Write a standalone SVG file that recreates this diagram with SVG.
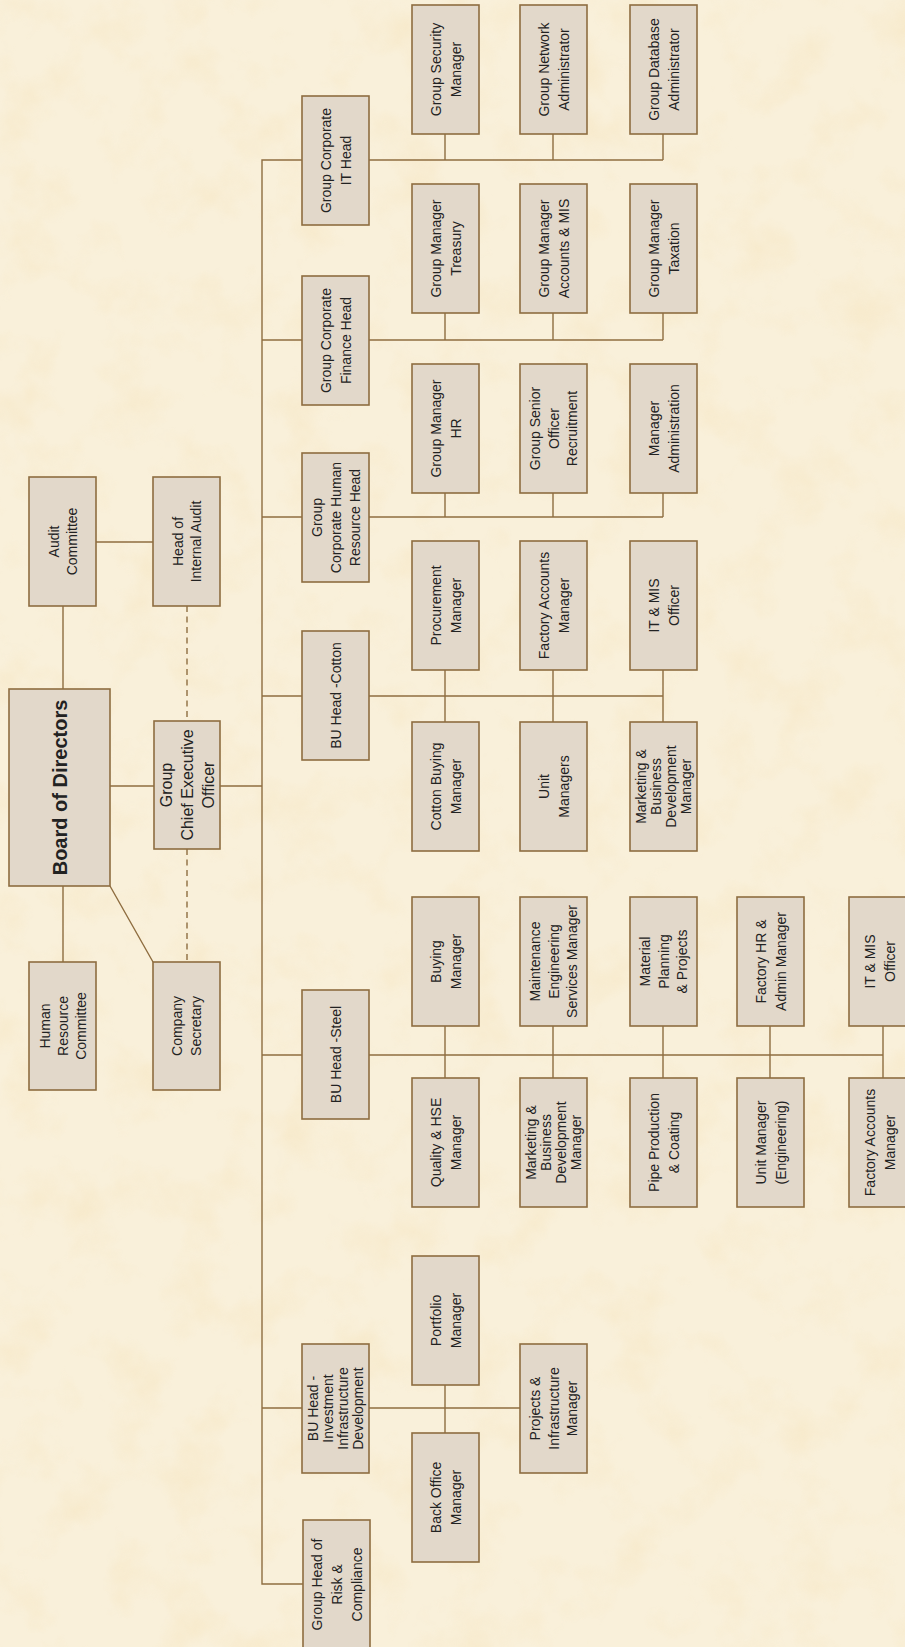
<svg xmlns="http://www.w3.org/2000/svg" width="905" height="1647" viewBox="0 0 905 1647">
<defs>
<style>
.box{fill:#e2d8ca;stroke:#8e6d40;stroke-width:1.6}
.t{font-family:"Liberation Sans",Arial,sans-serif;font-size:14px;fill:#222;text-anchor:middle}
.big{font-size:20px;font-weight:bold}
.ceo{font-size:16px}
.ln{stroke:#8e6d40;stroke-width:1.4;fill:none}
.dash{stroke-dasharray:6 4.5}
</style>
<filter id="paper" x="0" y="0" width="100%" height="100%">
<feTurbulence type="fractalNoise" baseFrequency="0.018" numOctaves="4" seed="7" result="n"/>
<feColorMatrix in="n" type="matrix" values="0 0 0 0 0.92  0 0 0 0 0.78  0 0 0 0 0.52  2.2 0 0 0 -1.05"/>
</filter>
</defs>
<rect width="905" height="1647" fill="#f9f0da"/>
<rect width="905" height="1647" fill="#fff" filter="url(#paper)" opacity="0.55"/>

<g id="connectors">
<path class="ln" d="M63,606V689M96,542H153M63,886V962M110,886L153,962M110,786H154M220,786H262"/>
<path class="ln dash" d="M187,606V721M187,849V962"/>
<path class="ln" d="M302,160H262V1584H303M262,340H302M262,517H302M262,696H302M262,1055H302M262,1408H302"/>
<path class="ln" d="M369,160H663M445,134V160M553,134V160M663,134V160"/>
<path class="ln" d="M369,340H663M445,313V340M553,313V340M663,313V340"/>
<path class="ln" d="M369,517H663M445,493V517M553,493V517M663,493V517"/>
<path class="ln" d="M369,696H663M445,670V722M553,670V722M663,670V722"/>
<path class="ln" d="M369,1055H883M445,1026V1078M553,1026V1078M663,1026V1078M770,1026V1078M883,1026V1078"/>
<path class="ln" d="M369,1408H520M445,1385V1433"/>
</g>

<g id="board"><rect class="box" x="9" y="689" width="101" height="197"/>
<text class="t big" transform="translate(60,787.5) rotate(-90)"><tspan x="0" y="7">Board of Directors</tspan></text></g>

<g id="audit"><rect class="box" x="29" y="477" width="67" height="129"/>
<text class="t" transform="translate(62.5,541.5) rotate(-90)"><tspan x="0" y="-4">Audit</tspan><tspan x="0" y="14">Committee</tspan></text></g>

<g id="hia"><rect class="box" x="153" y="477" width="67" height="129"/>
<text class="t" transform="translate(186.5,541.5) rotate(-90)"><tspan x="0" y="-4">Head of</tspan><tspan x="0" y="14">Internal Audit</tspan></text></g>

<g id="ceo"><rect class="box" x="154" y="721" width="66" height="128"/>
<text class="t ceo" transform="translate(187,785) rotate(-90)"><tspan x="0" y="-15">Group</tspan><tspan x="0" y="6">Chief Executive</tspan><tspan x="0" y="27">Officer</tspan></text></g>

<g id="hrc"><rect class="box" x="29" y="962" width="67" height="128"/>
<text class="t" transform="translate(62.5,1026) rotate(-90)"><tspan x="0" y="-13">Human</tspan><tspan x="0" y="5">Resource</tspan><tspan x="0" y="23">Committee</tspan></text></g>

<g id="secretary"><rect class="box" x="153" y="962" width="67" height="128"/>
<text class="t" transform="translate(186.5,1026) rotate(-90)"><tspan x="0" y="-4.5">Company</tspan><tspan x="0" y="14.5">Secretary</tspan></text></g>

<g id="it_head"><rect class="box" x="302" y="96" width="67" height="129"/>
<text class="t" transform="translate(335.5,160.5) rotate(-90)"><tspan x="0" y="-5">Group Corporate</tspan><tspan x="0" y="15">IT Head</tspan></text></g>

<g id="fin_head"><rect class="box" x="302" y="276" width="67" height="129"/>
<text class="t" transform="translate(335.5,340.5) rotate(-90)"><tspan x="0" y="-5">Group Corporate</tspan><tspan x="0" y="15">Finance Head</tspan></text></g>

<g id="hr_head"><rect class="box" x="302" y="453" width="67" height="129"/>
<text class="t" transform="translate(335.5,517.5) rotate(-90)"><tspan x="0" y="-14">Group</tspan><tspan x="0" y="5">Corporate Human</tspan><tspan x="0" y="24">Resource Head</tspan></text></g>

<g id="cotton_head"><rect class="box" x="302" y="631" width="67" height="129"/>
<text class="t" transform="translate(335.5,695.5) rotate(-90)"><tspan x="0" y="5">BU Head -Cotton</tspan></text></g>

<g id="steel_head"><rect class="box" x="302" y="990" width="67" height="129"/>
<text class="t" transform="translate(335.5,1054.5) rotate(-90)"><tspan x="0" y="5">BU Head -Steel</tspan></text></g>

<g id="invest_head"><rect class="box" x="302" y="1344" width="67" height="129"/>
<text class="t" transform="translate(335.5,1408.5) rotate(-90)"><tspan x="0" y="-17.5">BU Head -</tspan><tspan x="0" y="-2.5">Investment</tspan><tspan x="0" y="12.5">Infrastructure</tspan><tspan x="0" y="27.5">Development</tspan></text></g>

<g id="risk_head"><rect class="box" x="303" y="1520" width="67" height="129"/>
<text class="t" transform="translate(336.5,1584.5) rotate(-90)"><tspan x="0" y="-15">Group Head of</tspan><tspan x="0" y="5">Risk &amp;</tspan><tspan x="0" y="25">Compliance</tspan></text></g>

<g id="sec_mgr"><rect class="box" x="412" y="5" width="67" height="129"/>
<text class="t" transform="translate(445.5,69.5) rotate(-90)"><tspan x="0" y="-5">Group Security</tspan><tspan x="0" y="15">Manager</tspan></text></g>

<g id="net_admin"><rect class="box" x="520" y="5" width="67" height="129"/>
<text class="t" transform="translate(553.5,69.5) rotate(-90)"><tspan x="0" y="-5">Group Network</tspan><tspan x="0" y="15">Administrator</tspan></text></g>

<g id="db_admin"><rect class="box" x="630" y="5" width="67" height="129"/>
<text class="t" transform="translate(663.5,69.5) rotate(-90)"><tspan x="0" y="-5">Group Database</tspan><tspan x="0" y="15">Administrator</tspan></text></g>

<g id="treasury"><rect class="box" x="412" y="184" width="67" height="129"/>
<text class="t" transform="translate(445.5,248.5) rotate(-90)"><tspan x="0" y="-5">Group Manager</tspan><tspan x="0" y="15">Treasury</tspan></text></g>

<g id="accounts"><rect class="box" x="520" y="184" width="67" height="129"/>
<text class="t" transform="translate(553.5,248.5) rotate(-90)"><tspan x="0" y="-5">Group Manager</tspan><tspan x="0" y="15">Accounts &amp; MIS</tspan></text></g>

<g id="taxation"><rect class="box" x="630" y="184" width="67" height="129"/>
<text class="t" transform="translate(663.5,248.5) rotate(-90)"><tspan x="0" y="-5">Group Manager</tspan><tspan x="0" y="15">Taxation</tspan></text></g>

<g id="gm_hr"><rect class="box" x="412" y="364" width="67" height="129"/>
<text class="t" transform="translate(445.5,428.5) rotate(-90)"><tspan x="0" y="-5">Group Manager</tspan><tspan x="0" y="15">HR</tspan></text></g>

<g id="recruit"><rect class="box" x="520" y="364" width="67" height="129"/>
<text class="t" transform="translate(553.5,428.5) rotate(-90)"><tspan x="0" y="-13.5">Group Senior</tspan><tspan x="0" y="5">Officer</tspan><tspan x="0" y="23.5">Recruitment</tspan></text></g>

<g id="mgr_admin"><rect class="box" x="630" y="364" width="67" height="129"/>
<text class="t" transform="translate(663.5,428.5) rotate(-90)"><tspan x="0" y="-5">Manager</tspan><tspan x="0" y="15">Administration</tspan></text></g>

<g id="procure"><rect class="box" x="412" y="541" width="67" height="129"/>
<text class="t" transform="translate(445.5,605.5) rotate(-90)"><tspan x="0" y="-5">Procurement</tspan><tspan x="0" y="15">Manager</tspan></text></g>

<g id="c_fac_acc"><rect class="box" x="520" y="541" width="67" height="129"/>
<text class="t" transform="translate(553.5,605.5) rotate(-90)"><tspan x="0" y="-5">Factory Accounts</tspan><tspan x="0" y="15">Manager</tspan></text></g>

<g id="c_itmis"><rect class="box" x="630" y="541" width="67" height="129"/>
<text class="t" transform="translate(663.5,605.5) rotate(-90)"><tspan x="0" y="-5">IT &amp; MIS</tspan><tspan x="0" y="15">Officer</tspan></text></g>

<g id="cotton_buy"><rect class="box" x="412" y="722" width="67" height="129"/>
<text class="t" transform="translate(445.5,786.5) rotate(-90)"><tspan x="0" y="-5">Cotton Buying</tspan><tspan x="0" y="15">Manager</tspan></text></g>

<g id="unit_mgrs"><rect class="box" x="520" y="722" width="67" height="129"/>
<text class="t" transform="translate(553.5,786.5) rotate(-90)"><tspan x="0" y="-5">Unit</tspan><tspan x="0" y="15">Managers</tspan></text></g>

<g id="c_mkt"><rect class="box" x="630" y="722" width="67" height="129"/>
<text class="t" transform="translate(663.5,786.5) rotate(-90)"><tspan x="0" y="-17.5">Marketing &amp;</tspan><tspan x="0" y="-2.5">Business</tspan><tspan x="0" y="12.5">Development</tspan><tspan x="0" y="27.5">Manager</tspan></text></g>

<g id="buying"><rect class="box" x="412" y="897" width="67" height="129"/>
<text class="t" transform="translate(445.5,961.5) rotate(-90)"><tspan x="0" y="-5">Buying</tspan><tspan x="0" y="15">Manager</tspan></text></g>

<g id="maint"><rect class="box" x="520" y="897" width="67" height="129"/>
<text class="t" transform="translate(553.5,961.5) rotate(-90)"><tspan x="0" y="-13.5">Maintenance</tspan><tspan x="0" y="5">Engineering</tspan><tspan x="0" y="23.5">Services Manager</tspan></text></g>

<g id="material"><rect class="box" x="630" y="897" width="67" height="129"/>
<text class="t" transform="translate(663.5,961.5) rotate(-90)"><tspan x="0" y="-13.5">Material</tspan><tspan x="0" y="5">Planning</tspan><tspan x="0" y="23.5">&amp; Projects</tspan></text></g>

<g id="fac_hr"><rect class="box" x="737" y="897" width="67" height="129"/>
<text class="t" transform="translate(770.5,961.5) rotate(-90)"><tspan x="0" y="-5">Factory HR &amp;</tspan><tspan x="0" y="15">Admin Manager</tspan></text></g>

<g id="s_itmis"><rect class="box" x="849" y="897" width="67" height="129"/>
<text class="t" transform="translate(880,961.5) rotate(-90)"><tspan x="0" y="-5">IT &amp; MIS</tspan><tspan x="0" y="15">Officer</tspan></text></g>

<g id="quality"><rect class="box" x="412" y="1078" width="67" height="129"/>
<text class="t" transform="translate(445.5,1142.5) rotate(-90)"><tspan x="0" y="-5">Quality &amp; HSE</tspan><tspan x="0" y="15">Manager</tspan></text></g>

<g id="s_mkt"><rect class="box" x="520" y="1078" width="67" height="129"/>
<text class="t" transform="translate(553.5,1142.5) rotate(-90)"><tspan x="0" y="-17.5">Marketing &amp;</tspan><tspan x="0" y="-2.5">Business</tspan><tspan x="0" y="12.5">Development</tspan><tspan x="0" y="27.5">Manager</tspan></text></g>

<g id="pipe"><rect class="box" x="630" y="1078" width="67" height="129"/>
<text class="t" transform="translate(663.5,1142.5) rotate(-90)"><tspan x="0" y="-5">Pipe Production</tspan><tspan x="0" y="15">&amp; Coating</tspan></text></g>

<g id="unit_eng"><rect class="box" x="737" y="1078" width="67" height="129"/>
<text class="t" transform="translate(770.5,1142.5) rotate(-90)"><tspan x="0" y="-5">Unit Manager</tspan><tspan x="0" y="15">(Engineering)</tspan></text></g>

<g id="s_fac_acc"><rect class="box" x="849" y="1078" width="67" height="129"/>
<text class="t" transform="translate(880,1142.5) rotate(-90)"><tspan x="0" y="-5">Factory Accounts</tspan><tspan x="0" y="15">Manager</tspan></text></g>

<g id="portfolio"><rect class="box" x="412" y="1256" width="67" height="129"/>
<text class="t" transform="translate(445.5,1320.5) rotate(-90)"><tspan x="0" y="-5">Portfolio</tspan><tspan x="0" y="15">Manager</tspan></text></g>

<g id="back_office"><rect class="box" x="412" y="1433" width="67" height="129"/>
<text class="t" transform="translate(445.5,1497.5) rotate(-90)"><tspan x="0" y="-5">Back Office</tspan><tspan x="0" y="15">Manager</tspan></text></g>

<g id="projects"><rect class="box" x="520" y="1344" width="67" height="129"/>
<text class="t" transform="translate(553.5,1408.5) rotate(-90)"><tspan x="0" y="-13.5">Projects &amp;</tspan><tspan x="0" y="5">Infrastructure</tspan><tspan x="0" y="23.5">Manager</tspan></text></g>
</svg>
